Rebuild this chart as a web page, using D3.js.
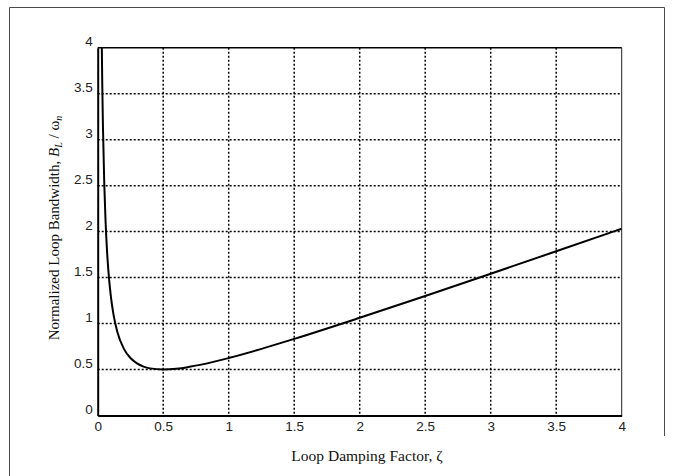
<!DOCTYPE html>
<html><head><meta charset="utf-8">
<script src="https://cdn.jsdelivr.net/npm/d3@7/dist/d3.min.js"></script>
<style>body{margin:0;background:#fff}svg{display:block}</style>
</head><body>
<svg id="c" width="673" height="476"></svg>
<script>
// Data
const zeta = [0.025,0.03,0.035,0.04,0.05,0.06,0.07,0.08,0.1,0.12,0.15,0.2,0.25,0.3,0.35,0.4,0.5,0.6,0.7,0.8,1.0,1.25,1.5,2,2.5,3,3.5,4];
const bandwidth = [5.01,4.18,3.589,3.145,2.525,2.113,1.821,1.603,1.30,1.102,0.908,0.725,0.625,0.567,0.532,0.5125,0.5,0.508,0.529,0.556,0.625,0.725,0.833,1.0625,1.30,1.542,1.786,2.031];
const xTicks = [0,0.5,1,1.5,2,2.5,3,3.5,4];
const yTicks = [0,0.5,1,1.5,2,2.5,3,3.5,4];
const xTickLabels = ["0","0.5","1","1.5","2","2.5","3","3.5","4"];
const yTickLabels = ["0","0.5","1","1.5","2","2.5","3","3.5","4"];

const svg = d3.select("#c");
const L = 97.7, R = 621.7, T = 47.7, B = 415.5;
const x = d3.scaleLinear().domain([0,4]).range([L,R]);
const y = d3.scaleLinear().domain([0,4]).range([B,T]);

// outer frame
const frame = svg.append("g").attr("stroke","#4a4a4a").attr("stroke-width",1).attr("fill","none");
frame.append("line").attr("x1",9.5).attr("x2",9.5).attr("y1",7.5).attr("y2",476);
frame.append("line").attr("x1",9.5).attr("x2",664.5).attr("y1",7.5).attr("y2",7.5);
frame.append("line").attr("x1",664.5).attr("x2",664.5).attr("y1",7.5).attr("y2",436);

// grid
const grid = svg.append("g").attr("stroke","#000").attr("stroke-width",1.5).attr("stroke-dasharray","2,2");
grid.selectAll(".vg").data(xTicks.slice(1,-1)).join("line")
  .attr("x1",d=>x(d)).attr("x2",d=>x(d)).attr("y1",T).attr("y2",B);
grid.selectAll(".hg").data(yTicks.slice(1,-1)).join("line")
  .attr("y1",d=>y(d)).attr("y2",d=>y(d)).attr("x1",L).attr("x2",R);

// box
svg.append("line").attr("x1",L).attr("x2",R).attr("y1",T).attr("y2",T).attr("stroke","#000").attr("stroke-width",1.6);
svg.append("line").attr("x1",R).attr("x2",R).attr("y1",T).attr("y2",B).attr("stroke","#222").attr("stroke-width",1);

// axes via d3
const xAxis = d3.axisBottom(x).tickValues(xTicks).tickSize(0).tickPadding(0).tickFormat((d,i)=>xTickLabels[i]);
const yAxis = d3.axisLeft(y).tickValues(yTicks).tickSize(0).tickPadding(0).tickFormat((d,i)=>yTickLabels[i]);
const gx = svg.append("g").attr("transform",`translate(0,${B})`).call(xAxis);
const gy = svg.append("g").attr("transform",`translate(${L},0)`).call(yAxis);
[gx,gy].forEach(g=>{
  g.select(".domain").attr("stroke","#000").attr("stroke-width",2);
  g.selectAll("text").attr("font-family","'Liberation Sans', Arial, sans-serif").attr("font-size",13.5).attr("fill","#222");
});
gx.selectAll("text").attr("dy",null).attr("y",15.5);
gy.selectAll("text").attr("dy",null).attr("x",-5).attr("y",-2);

// curve
svg.append("clipPath").attr("id","clip").append("rect").attr("x",L).attr("y",T).attr("width",R-L).attr("height",B-T);
const pts = zeta.map((z,i)=>[z,bandwidth[i]]);
const line = d3.line().x(d=>x(d[0])).y(d=>y(d[1])).curve(d3.curveMonotoneX);
svg.append("path").attr("d",line(pts)).attr("fill","none").attr("stroke","#000").attr("stroke-width",2).attr("clip-path","url(#clip)");

// axis titles
svg.append("text").attr("x",367).attr("y",461).attr("text-anchor","middle")
  .attr("font-family","'Liberation Serif','Times New Roman',serif").attr("font-size",15.5).attr("fill","#111")
  .text("Loop Damping Factor, ζ");
const yt = svg.append("text").attr("transform","translate(59,228) rotate(-90)").attr("text-anchor","middle")
  .attr("font-family","'Liberation Serif','Times New Roman',serif").attr("font-size",15).attr("fill","#111");
yt.append("tspan").text("Normalized Loop Bandwidth, ");
yt.append("tspan").attr("font-style","italic").text("B");
yt.append("tspan").attr("font-style","italic").attr("font-size",10).attr("dy",3).text("L");
yt.append("tspan").attr("dy",-3).text(" / ω");
yt.append("tspan").attr("font-style","italic").attr("font-size",10).attr("dy",3).text("n");
</script>
</body></html>
